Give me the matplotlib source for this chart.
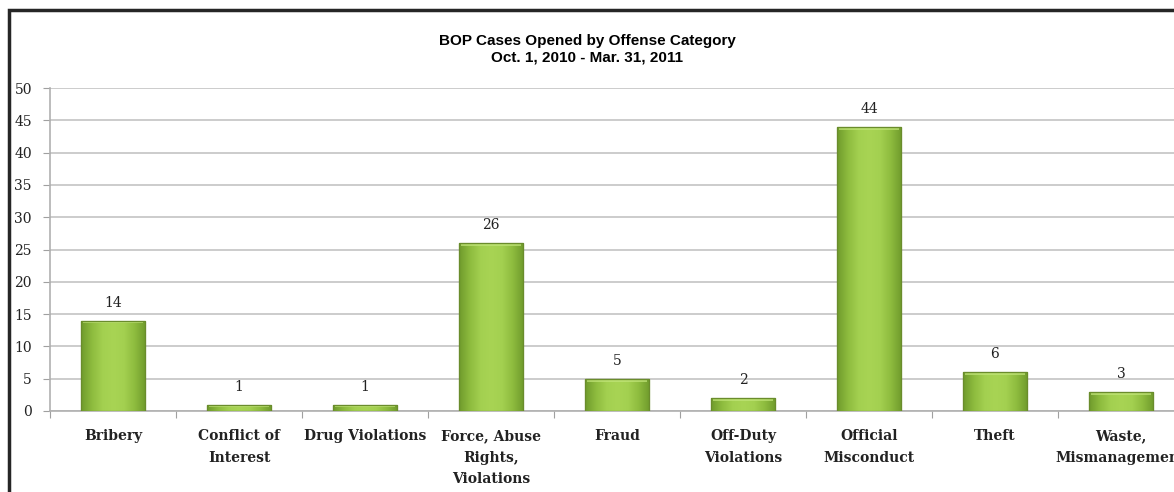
import matplotlib.pyplot as plt
import numpy as np
from matplotlib.colors import LinearSegmentedColormap
from matplotlib.patches import Rectangle

categories = ['Bribery', 'Conflict of\nInterest', 'Drug Violations',
              'Force, Abuse\nRights,\nViolations', 'Fraud', 'Off-Duty\nViolations',
              'Official\nMisconduct', 'Theft', 'Waste,\nMismanagement']
cases = [14, 1, 1, 26, 5, 2, 44, 6, 3]
y_ticks = [0, 5, 10, 15, 20, 25, 30, 35, 40, 45, 50]

W, H = 1174, 492
fig = plt.figure(figsize=(W / 100, H / 100), dpi=100)

# plot area runs past the right edge of the canvas
ax = fig.add_axes([50 / W, 81 / H, 1134 / W, 323 / H])
x = np.arange(len(categories))
bw = 0.51
bars = ax.bar(x, cases, width=bw, color='#9CC84B', edgecolor='#6E922E',
              linewidth=0.8, zorder=3)

# shaded fill inside each bar (darker sides, light centre)
green = LinearSegmentedColormap.from_list(
    'g', ['#6F9A2C', '#8DBB3E', '#A3D050', '#A8D454', '#A3D050', '#8DBB3E', '#6F9A2C'])
grad = np.linspace(0, 1, 256).reshape(1, -1)
for b in bars:
    x0, w, h = b.get_x(), b.get_width(), b.get_height()
    im = ax.imshow(grad, cmap=green, aspect='auto', extent=[x0, x0 + w, 0, h],
                   zorder=3.5, interpolation='bicubic')
    im.set_clip_path(b)
    # lighter bevel along the top
    ax.add_patch(Rectangle((x0 + w * 0.04, h - 0.45), w * 0.92, 0.4,
                           color='#C2E57A', alpha=0.7, lw=0, zorder=3.6))
    ax.add_patch(Rectangle((x0, 0), w, h, fill=False, ec='#6A8C2C', lw=0.9, zorder=3.7))
    ax.text(x0 + w / 2, h + 1.7, str(int(h)), ha='center', va='bottom',
            fontsize=10, family='DejaVu Serif', color='#222222')

ax.set_xlim(-0.5, len(categories) - 0.5)
ax.set_ylim(0, 50)
ax.set_yticks(y_ticks)
ax.set_yticklabels([str(v) for v in y_ticks], family='DejaVu Serif', fontsize=10,
                   color='#222222')
ax.set_xticks(np.arange(len(categories) + 1) - 0.5)
ax.set_xticklabels([])
ax.set_xticks(x, minor=True)
ax.set_xticklabels(categories, minor=True, family='DejaVu Serif', fontweight='bold',
                   fontsize=10, color='#222222', linespacing=1.7)
ax.tick_params(axis='x', which='minor', length=0, pad=13)
ax.tick_params(axis='x', which='major', length=5, color='#A0A0A0', direction='out')
ax.tick_params(axis='y', length=5, color='#A0A0A0', pad=8)
ax.grid(axis='y', color='#C4C4C4', linewidth=1.2, zorder=0)
ax.set_axisbelow(True)
for s in ['top', 'right']:
    ax.spines[s].set_visible(False)
for s in ['left', 'bottom']:
    ax.spines[s].set_color('#B0B0B0')
    ax.spines[s].set_linewidth(1.2)

fig.text(0.5, 1 - 49 / H, 'BOP Cases Opened by Offense Category\nOct. 1, 2010 - Mar. 31, 2011',
         ha='center', va='center', fontsize=11, fontweight='bold',
         family='Liberation Sans', linespacing=1.2)

# chart frame
fig.patches.append(Rectangle((9 / W, -0.2), 1.2, 1.2 - 10 / H, transform=fig.transFigure,
                             fill=False, ec='#262626', lw=2.5))

fig.savefig('out.png', dpi=100)
